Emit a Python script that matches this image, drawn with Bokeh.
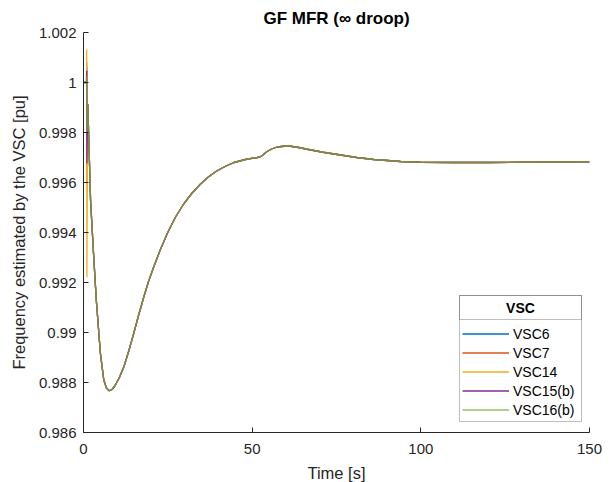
from bokeh.plotting import figure
from bokeh.models import Legend, LegendItem, FixedTicker, BoxAnnotation, Label
from bokeh.embed import file_html
from bokeh.resources import INLINE

# ---------------- data ----------------
series_names = ["VSC6", "VSC7", "VSC14", "VSC15(b)", "VSC16(b)"]
series_colors = ["#0072BD", "#D95319", "#EDB120", "#7E2F8E", "#77AC30"]
legend_title = "VSC"

# initial transient (t = 0 .. 1 s), per series
t_spike = [0.0, 0.90, 0.95, 1.00]
spike_pre = [1.0, 1.0]
spike_peak = [1.00060, 1.00080, 1.00132, 1.00047, 1.00025]
spike_trough = [0.99700, 0.99600, 0.99221, 0.99676, 0.99799]

# common response after the transient
t_main = [1.27, 2.1, 3.0, 3.8, 5.0, 6.0, 6.8, 7.6, 8.5, 9.5, 10.7, 12.0, 13.4,
          14.9, 16.4, 17.9, 19.3, 20.8, 22.8, 24.8, 27.2, 29.7, 32.2, 34.7,
          37.1, 39.6, 42.1, 44.6, 48.0, 51.5, 52.3,
          53.2, 54.4, 55.9, 57.4, 59.4, 61.4, 63.8, 66.3, 71.0, 76.2, 81.0,
          86.1, 94.0, 100.0, 110.0, 120.0, 130.0, 140.0, 150.0]
f_main = [0.99913, 0.99527, 0.99310, 0.99129, 0.98918, 0.98811, 0.98778,
          0.98767, 0.98772, 0.98791, 0.98822, 0.98864, 0.98925,
          0.98997, 0.99072, 0.99143, 0.99205, 0.99262, 0.99332, 0.99395,
          0.99460, 0.99514, 0.99558, 0.99594, 0.99623, 0.99647, 0.99665,
          0.99680, 0.99692, 0.99700, 0.99702, 0.99710, 0.99724, 0.99735,
          0.99742, 0.99745, 0.99745, 0.99740, 0.99733, 0.99721, 0.99710,
          0.99700, 0.99692, 0.99684, 0.99681, 0.99680, 0.99680, 0.99681,
          0.99682, 0.99683]

x_ticks = [0, 50, 100, 150]
y_ticks = [0.986, 0.988, 0.990, 0.992, 0.994, 0.996, 0.998, 1.000, 1.002]
y_tick_labels = ["0.986", "0.988", "0.99", "0.992", "0.994", "0.996", "0.998", "1", "1.002"]

FONT = "Liberation Sans"
INK = "#262626"

p = figure(frame_width=506, frame_height=400,
           min_border_left=83, min_border_right=24,
           min_border_top=32, min_border_bottom=50,
           x_range=(0, 150), y_range=(0.986, 1.002),
           output_backend="svg", toolbar_location=None,
           title="GF MFR (\u221e droop)")
p.background_fill_color = "white"
p.border_fill_color = "white"
p.outline_line_color = None
p.grid.visible = False

p.title.align = "center"
p.title.text_font = FONT
p.title.text_font_size = "17px"
p.title.text_font_style = "bold"
p.title.text_color = "black"

for ax in (p.xaxis[0], p.yaxis[0]):
    ax.axis_line_color = INK
    ax.major_tick_line_color = INK
    ax.minor_tick_line_color = None
    ax.major_tick_in = 5
    ax.major_tick_out = 0
    ax.major_label_text_font = FONT
    ax.major_label_text_font_size = "15px"
    ax.major_label_text_color = INK
    ax.axis_label_text_font = FONT
    ax.axis_label_text_font_size = "16.5px"
    ax.axis_label_text_font_style = "normal"
    ax.axis_label_text_color = INK

p.xaxis.ticker = FixedTicker(ticks=x_ticks)
p.yaxis.ticker = FixedTicker(ticks=y_ticks)
p.yaxis.major_label_overrides = {v: s for v, s in zip(y_ticks, y_tick_labels)}
p.xaxis.axis_label = "Time [s]"
p.yaxis.axis_label = "Frequency estimated by the VSC [pu]"
p.xaxis.major_label_standoff = 11
p.yaxis.major_label_standoff = 7
p.xaxis.axis_label_standoff = 7
p.yaxis.axis_label_standoff = 8

items = []
for i, (name, col) in enumerate(zip(series_names, series_colors)):
    xs = t_spike + t_main
    ys = spike_pre + [spike_peak[i], spike_trough[i]] + f_main
    alpha = 0.75 if i == len(series_names) - 1 else 1.0
    r = p.line(xs, ys, line_color=col, line_width=1.3, line_alpha=alpha)
    items.append(LegendItem(label=name, renderers=[r]))

# legend frame drawn first (screen units, frame-relative, y up)
box = BoxAnnotation(left=376, right=498, top=137, bottom=11,
                    left_units="screen", right_units="screen",
                    top_units="screen", bottom_units="screen",
                    fill_color="white", fill_alpha=1.0,
                    line_color=INK, line_width=1)
p.add_layout(box)
sep = BoxAnnotation(left=376, right=498, top=137, bottom=113,
                    left_units="screen", right_units="screen",
                    top_units="screen", bottom_units="screen",
                    fill_alpha=0, line_color=INK, line_width=1)
p.add_layout(sep)
ttl = Label(x=437, y=125, x_units="screen", y_units="screen",
            text=legend_title, text_align="center", text_baseline="middle",
            text_font=FONT, text_font_size="14px", text_font_style="bold",
            text_color="black")
p.add_layout(ttl)

# legend entries on a transparent legend
legend = Legend(items=items, location=(379, 13), title="\u00a0")
legend.title_text_font = FONT
legend.title_text_font_size = "14px"
legend.title_standoff = 9
legend.label_text_font = FONT
legend.label_text_font_size = "14px"
legend.label_text_color = "black"
legend.glyph_width = 47
legend.glyph_height = 19
legend.label_height = 19
legend.label_width = 61
legend.label_standoff = 4
legend.spacing = 0
legend.padding = 2
legend.margin = 0
legend.border_line_color = None
legend.background_fill_alpha = 0.0
p.add_layout(legend)

open("out.html", "w").write(file_html(p, INLINE))
